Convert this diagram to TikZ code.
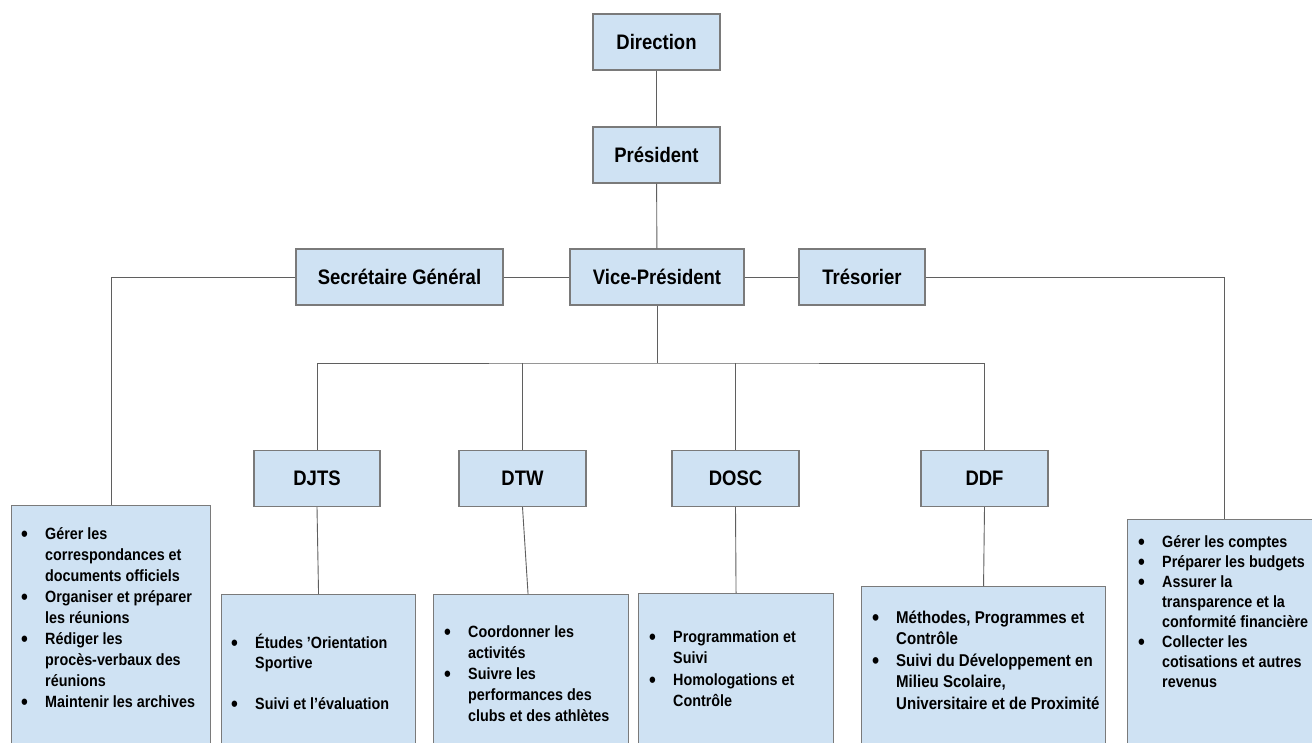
\documentclass[tikz,border=0pt]{standalone}
\usepackage{fontspec}
\setmainfont{Liberation Sans}[FakeStretch=0.88]

\definecolor{boxfill}{HTML}{CFE2F3}
\definecolor{boxline}{HTML}{7A7A7A}
\definecolor{wirecol}{HTML}{5F5F5F}

\newcommand\bl{\makebox[23pt][l]{\hspace*{-1pt}\raisebox{-0.25ex}{\scalebox{1.35}{\textbullet}}}}
\newcommand\ind{\hspace*{23pt}}

\tikzset{
  head/.style={draw=boxline, fill=boxfill, line width=1.1pt, minimum height=56pt,
    inner sep=0pt, font=\fontsize{21}{25}\selectfont\bfseries},
  panel/.style={draw=boxline, fill=boxfill, line width=1.1pt, inner sep=0pt,
    anchor=north west},
  items/.style={anchor=base west, inner sep=0pt,
    font=\fontsize{16.3}{#1}\selectfont\bfseries},
  wire/.style={draw=wirecol, line width=0.9pt}
}

\begin{document}
\begin{tikzpicture}[x=1pt, y=-1pt]
\useasboundingbox (0,0) rectangle (1312,742);
\clip (0,0) rectangle (1312,742);
\fill[white] (0,0) rectangle (1312,742);

% upper hierarchy
\node[head, minimum width=127pt] (dir)  at (656.5,42)  {Direction};
\node[head, minimum width=127pt] (pres) at (656.5,155) {Président};
\node[head, minimum width=207pt] (sg)   at (399.5,277) {Secrétaire Général};
\node[head, minimum width=174pt] (vp)   at (657,277)   {Vice-Président};
\node[head, minimum width=126pt] (tr)   at (862,277)   {Trésorier};

% directorates
\node[head, minimum width=126pt] (djts) at (317,478.5)   {DJTS};
\node[head, minimum width=127pt] (dtw)  at (522.5,478.5) {DTW};
\node[head, minimum width=127pt] (dosc) at (735.5,478.5) {DOSC};
\node[head, minimum width=127pt] (ddf)  at (984.5,478.5) {DDF};

% task panels
\node[panel, minimum width=199pt, minimum height=260pt] (sgL)   at (11,505)   {};
\node[panel, minimum width=194pt, minimum height=170pt] (djtsL) at (221,594)  {};
\node[panel, minimum width=195pt, minimum height=170pt] (dtwL)  at (433,594)  {};
\node[panel, minimum width=195pt, minimum height=170pt] (doscL) at (638,593)  {};
\node[panel, minimum width=244pt, minimum height=180pt] (ddfL)  at (861,586)  {};
\node[panel, minimum width=193pt, minimum height=250pt] (trL)   at (1127,519) {};

% task lists
\node[items=21] (sgT) at (22,539) {\begin{tabular}[t]{@{}l@{}}
\bl Gérer les\\ \ind correspondances et\\ \ind documents officiels\\
\bl Organiser et préparer\\ \ind les réunions\\
\bl Rédiger les\\ \ind procès-verbaux des\\ \ind réunions\\
\bl Maintenir les archives\end{tabular}};

\node[items=20.5] (djtsT) at (232,648) {\begin{tabular}[t]{@{}l@{}}
\bl Études ’Orientation\\ \ind Sportive\\[20.5pt]
\bl Suivi et l’évaluation\end{tabular}};

\node[items=21] (dtwT) at (445,637) {\begin{tabular}[t]{@{}l@{}}
\bl Coordonner les\\ \ind activités\\
\bl Suivre les\\ \ind performances des\\ \ind clubs et des athlètes\end{tabular}};

\node[items=21.5] (doscT) at (650,642) {\begin{tabular}[t]{@{}l@{}}
\bl Programmation et\\ \ind Suivi\\
\bl Homologations et\\ \ind Contrôle\end{tabular}};

\node[items=21.5, font=\fontsize{17.1}{21.5}\selectfont\bfseries] (ddfT) at (873,623) {\begin{tabular}[t]{@{}l@{}}
\bl Méthodes, Programmes et\\ \ind Contrôle\\
\bl Suivi du Développement en\\ \ind Milieu Scolaire,\\ \ind Universitaire et de Proximité\end{tabular}};

\node[items=20] (trT) at (1139,547) {\begin{tabular}[t]{@{}l@{}}
\bl Gérer les comptes\\
\bl Préparer les budgets\\
\bl Assurer la\\ \ind transparence et la\\ \ind conformité financière\\
\bl Collecter les\\ \ind cotisations et autres\\ \ind revenus\end{tabular}};

% connectors
\draw[wire] (dir) -- (pres);
\draw[wire] (pres) -- (vp);
\draw[wire] (sg) -- (vp);
\draw[wire] (vp) -- (tr);
\draw[wire] (sg.west) -| (sgL.north);
\draw[wire] (tr.east) -| (trL.north);

\coordinate (bus) at (657,363);
\draw[wire] (vp.south) -- (bus);
\draw[wire] (djts.north) |- (bus) -| (ddf.north);
\draw[wire] (dtw.north) -- (dtw.north |- bus);
\draw[wire] (dosc.north) -- (dosc.north |- bus);

\draw[wire] (djts.south) -- (djtsL.north);
\draw[wire] (dtw.south) -- ([xshift=-3pt]dtwL.north);
\draw[wire] (dosc.south) -- (doscL.north);
\draw[wire] (ddf.south) -- (ddfL.north);
\end{tikzpicture}
\end{document}
